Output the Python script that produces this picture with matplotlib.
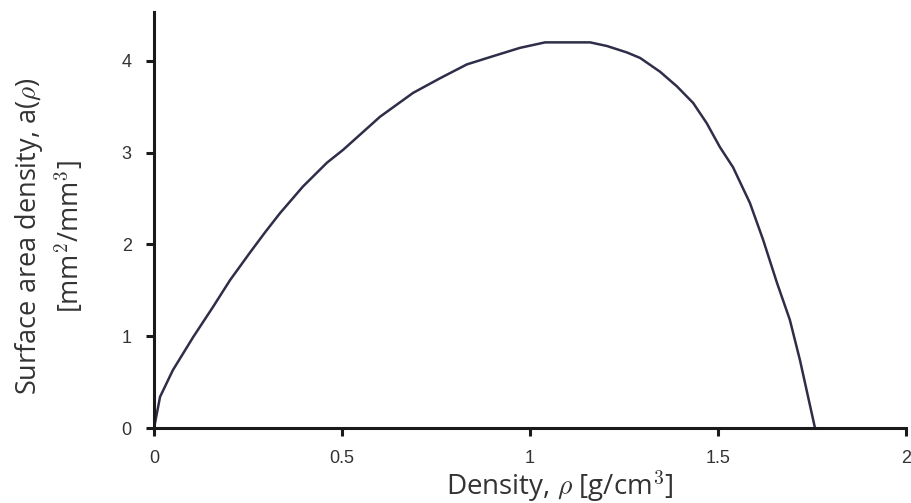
import matplotlib.pyplot as plt
import numpy as np

plt.rcParams['mathtext.fontset'] = 'cm'

# values
rho = [0.0, 0.016, 0.05, 0.104, 0.157, 0.202, 0.255, 0.295, 0.335, 0.396, 0.46,
       0.503, 0.601, 0.689, 0.761, 0.832, 0.902, 0.973, 1.04, 1.10, 1.16, 1.205,
       1.258, 1.293, 1.346, 1.391, 1.434, 1.47, 1.505, 1.54, 1.585, 1.62, 1.657,
       1.691, 1.718, 1.758]
area = [0.0, 0.34, 0.63, 0.99, 1.32, 1.61, 1.91, 2.13, 2.34, 2.63, 2.89,
        3.03, 3.39, 3.65, 3.81, 3.96, 4.05, 4.14, 4.2, 4.2, 4.2, 4.16,
        4.09, 4.03, 3.88, 3.72, 3.54, 3.32, 3.06, 2.84, 2.45, 2.05, 1.58,
        1.18, 0.74, 0.0]

xticks = [0, 0.5, 1, 1.5, 2]
xticklabels = ['0', '0.5', '1', '1.5', '2']
yticks = [0, 1, 2, 3, 4]

fig = plt.figure(figsize=(9.12, 5.03), dpi=100)
ax = fig.add_axes([0.1689, 0.149, 0.8245, 0.827])

ax.plot(rho, area, color='#2e2e48', lw=1.8)

ax.set_xlim(0, 2)
ax.set_ylim(0, 4.53)
ax.set_xticks(xticks)
ax.set_xticklabels(xticklabels)
ax.set_yticks(yticks)

for s in ['top', 'right']:
    ax.spines[s].set_visible(False)
for s in ['left', 'bottom']:
    ax.spines[s].set_linewidth(2.2)
    ax.spines[s].set_color('#1a1a1a')

ax.tick_params(direction='out', length=6, width=2.2, color='#1a1a1a',
               labelsize=13, pad=10)
for lab in ax.get_xticklabels() + ax.get_yticklabels():
    lab.set_family('Liberation Sans')
    lab.set_color('#333333')

ax.set_xlabel(r'Density, $\rho$ [g/cm$^3$]', fontsize=20, family='Open Sans',
              color='#333333')
ax.xaxis.set_label_coords(0.54, -0.097)
ax.set_ylabel('Surface area density, a($\\rho$)\n[mm$^2$/mm$^3$]', fontsize=19.5,
              family='Open Sans', color='#333333', linespacing=1.3)
ax.yaxis.set_label_coords(-0.09, 0.46)

plt.savefig('out.png', dpi=100)
